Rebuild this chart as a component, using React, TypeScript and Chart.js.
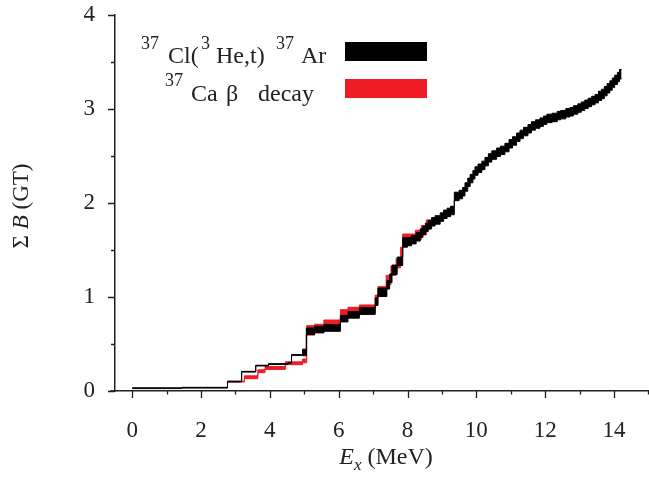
import React, { useEffect, useRef } from "react";
import { Chart, registerables } from "chart.js";

Chart.register(...registerables);

// ---- data ----
// 37Cl(3He,t)37Ar : step start energies (MeV), cumulative B(GT), half-width of band
const clE = [0, 1.44, 2.77, 3.18, 3.59, 3.96, 4.53, 4.63, 4.95, 5.06, 5.3, 5.57, 6.05, 6.27, 6.6, 7.06, 7.14, 7.4, 7.48, 7.55, 7.7, 7.86, 8.0, 8.12, 8.25, 8.37, 8.45, 8.52, 8.6, 8.7, 8.8, 8.95, 9.05, 9.15, 9.25, 9.36, 9.5, 9.6, 9.67, 9.75, 9.82, 9.9, 9.96, 10.05, 10.16, 10.25, 10.35, 10.45, 10.59, 10.7, 10.83, 10.95, 11.05, 11.17, 11.27, 11.37, 11.5, 11.6, 11.72, 11.85, 11.95, 12.05, 12.2, 12.35, 12.45, 12.6, 12.72, 12.82, 12.95, 13.05, 13.15, 13.25, 13.35, 13.45, 13.55, 13.64, 13.72, 13.8, 13.88, 13.95, 14.02, 14.1, 14.16, 14.22];
const clB = [0.03, 0.035, 0.1, 0.205, 0.27, 0.287, 0.3, 0.383, 0.41, 0.635, 0.654, 0.67, 0.77, 0.81, 0.85, 0.95, 1.05, 1.13, 1.2, 1.29, 1.38, 1.58, 1.59, 1.61, 1.64, 1.68, 1.71, 1.74, 1.77, 1.8, 1.82, 1.85, 1.88, 1.9, 1.92, 2.07, 2.09, 2.12, 2.17, 2.22, 2.26, 2.3, 2.34, 2.37, 2.4, 2.44, 2.48, 2.51, 2.54, 2.56, 2.59, 2.63, 2.66, 2.7, 2.73, 2.76, 2.79, 2.82, 2.84, 2.86, 2.88, 2.9, 2.91, 2.93, 2.94, 2.96, 2.97, 2.99, 3.01, 3.03, 3.05, 3.07, 3.09, 3.11, 3.14, 3.16, 3.19, 3.22, 3.25, 3.28, 3.31, 3.34, 3.37, 3.37];
const clErr = [0.004, 0.004, 0.004, 0.004, 0.004, 0.004, 0.004, 0.004, 0.035, 0.035, 0.035, 0.035, 0.035, 0.035, 0.035, 0.04, 0.045, 0.045, 0.045, 0.05, 0.045, 0.05, 0.045, 0.045, 0.045, 0.045, 0.045, 0.045, 0.045, 0.045, 0.045, 0.045, 0.045, 0.045, 0.045, 0.045, 0.045, 0.045, 0.045, 0.045, 0.045, 0.045, 0.045, 0.045, 0.045, 0.045, 0.045, 0.045, 0.045, 0.045, 0.045, 0.045, 0.045, 0.045, 0.045, 0.045, 0.045, 0.045, 0.045, 0.045, 0.045, 0.045, 0.045, 0.045, 0.045, 0.045, 0.045, 0.045, 0.045, 0.045, 0.045, 0.045, 0.045, 0.045, 0.05, 0.05, 0.05, 0.05, 0.05, 0.05, 0.05, 0.05, 0.05, 0.05];

// 37Ca beta decay
const caE = [2.77, 3.26, 3.65, 3.86, 4.45, 4.95, 5.07, 5.3, 5.57, 6.05, 6.27, 6.6, 7.06, 7.14, 7.38, 7.52, 7.67, 7.8, 7.86, 8.23, 8.4, 8.55, 8.68];
const caB = [0.1, 0.146, 0.21, 0.245, 0.295, 0.32, 0.645, 0.665, 0.71, 0.82, 0.845, 0.87, 0.97, 1.06, 1.18, 1.28, 1.36, 1.48, 1.62, 1.66, 1.71, 1.77, 1.77];
const caErr = [0.004, 0.015, 0.015, 0.015, 0.015, 0.02, 0.05, 0.045, 0.045, 0.045, 0.045, 0.045, 0.05, 0.05, 0.05, 0.05, 0.05, 0.05, 0.05, 0.05, 0.05, 0.05, 0.05];

const xTickValues = [0, 2, 4, 6, 8, 10, 12, 14];
const xMinorValues = [1, 3, 5, 7, 9, 11, 13, 15];
const yTickValues = [0, 1, 2, 3, 4];
const yMinorValues = [0.5, 1.5, 2.5, 3.5];

const seriesNames = ["37Cl(3He,t)37Ar", "37Ca beta decay"];

const FONT = "'Liberation Serif', 'Times New Roman', serif";
const BLACK = "#000000";
const RED = "#ee1c25";
const AXIS = "#231f20";

const band = (E: number[], B: number[], err: number[], sign: number) =>
  E.map((e, i) => ({ x: e, y: B[i] + sign * err[i] }));

type Part = { t: string; x: number; size: number; italic?: boolean; dy?: number };

function drawParts(ctx: CanvasRenderingContext2D, parts: Part[], baseY: number) {
  for (const p of parts) {
    ctx.font = `${p.italic ? "italic " : ""}${p.size}px ${FONT}`;
    ctx.fillText(p.t, p.x, baseY + (p.dy || 0));
  }
}

function drawSeq(ctx: CanvasRenderingContext2D, parts: { t: string; size: number; italic?: boolean; dy?: number }[], cx: number, baseY: number) {
  let total = 0;
  const widths = parts.map((p) => {
    ctx.font = `${p.italic ? "italic " : ""}${p.size}px ${FONT}`;
    const w = ctx.measureText(p.t).width;
    total += w;
    return w;
  });
  let x = cx - total / 2;
  parts.forEach((p, i) => {
    ctx.font = `${p.italic ? "italic " : ""}${p.size}px ${FONT}`;
    ctx.fillText(p.t, x, baseY + (p.dy || 0));
    x += widths[i];
  });
}

const decorPlugin = {
  id: "decor",
  afterDraw(chart: any) {
    const ctx: CanvasRenderingContext2D = chart.ctx;
    const xs = chart.scales.x;
    const ys = chart.scales.y;
    const area = chart.chartArea;
    ctx.save();
    // tick marks
    ctx.strokeStyle = AXIS;
    ctx.lineWidth = 1.3;
    ctx.beginPath();
    for (const v of xTickValues) {
      const px = Math.round(xs.getPixelForValue(v)) + 0.5;
      ctx.moveTo(px, area.bottom);
      ctx.lineTo(px, area.bottom + 7);
    }
    for (const v of xMinorValues) {
      const px = Math.round(xs.getPixelForValue(v)) + 0.5;
      ctx.moveTo(px, area.bottom);
      ctx.lineTo(px, area.bottom + 3.5);
    }
    for (const v of yTickValues) {
      const py = Math.round(ys.getPixelForValue(v)) + 0.5;
      ctx.moveTo(area.left - 7, py);
      ctx.lineTo(area.left, py);
    }
    for (const v of yMinorValues) {
      const py = Math.round(ys.getPixelForValue(v)) + 0.5;
      ctx.moveTo(area.left - 4, py);
      ctx.lineTo(area.left, py);
    }
    ctx.stroke();
    // small overhang of x axis to the left of the y axis
    ctx.lineWidth = 1.5;
    ctx.beginPath();
    ctx.moveTo(area.left - 5, area.bottom);
    ctx.lineTo(area.left, area.bottom);
    ctx.stroke();

    ctx.fillStyle = "#222";
    ctx.textAlign = "left";
    ctx.textBaseline = "alphabetic";
    // legend
    drawParts(ctx, [
      { t: "37", x: 141, size: 18, dy: -14 },
      { t: "Cl(", x: 168, size: 24 },
      { t: "3", x: 201, size: 18, dy: -14 },
      { t: "He,t)", x: 216, size: 24 },
      { t: "37", x: 276, size: 18, dy: -14 },
      { t: "Ar", x: 301, size: 24 },
    ], 63);
    drawParts(ctx, [
      { t: "37", x: 165, size: 18, dy: -15 },
      { t: "Ca", x: 191, size: 24 },
      { t: "\u03b2", x: 226, size: 24 },
      { t: "decay", x: 258, size: 24 },
    ], 101);
    ctx.fillStyle = BLACK;
    ctx.fillRect(345, 42, 82, 19);
    ctx.fillStyle = RED;
    ctx.fillRect(345, 79, 82, 19);

    // axis titles
    ctx.fillStyle = "#222";
    drawSeq(ctx, [
      { t: "E", size: 24, italic: true },
      { t: "x", size: 17, italic: true, dy: 6 },
      { t: " (MeV)", size: 24 },
    ], 386, 464);
    ctx.save();
    ctx.translate(28, 206);
    ctx.rotate(-Math.PI / 2);
    drawSeq(ctx, [
      { t: "\u03a3 ", size: 23 },
      { t: "B", size: 23, italic: true },
      { t: " (GT)", size: 23 },
    ], 0, 0);
    ctx.restore();
    ctx.restore();
  },
};

export default function App() {
  const ref = useRef<HTMLCanvasElement>(null);
  useEffect(() => {
    if (!ref.current) return;
    const common = { pointRadius: 0, borderWidth: 1, stepped: true as const };
    const chart = new Chart(ref.current, {
      type: "line",
      data: {
        datasets: [
          { ...common, label: seriesNames[0] + " upper", data: band(clE, clB, clErr, 1), borderColor: BLACK, backgroundColor: BLACK, fill: false, order: 0 },
          { ...common, label: seriesNames[0] + " lower", data: band(clE, clB, clErr, -1), borderColor: BLACK, backgroundColor: BLACK, fill: "-1", order: 0 },
          { ...common, label: seriesNames[1] + " upper", data: band(caE, caB, caErr, 1), borderColor: RED, backgroundColor: RED, fill: false, order: 1 },
          { ...common, label: seriesNames[1] + " lower", data: band(caE, caB, caErr, -1), borderColor: RED, backgroundColor: RED, fill: "-1", order: 1 },
        ],
      },
      options: {
        responsive: false,
        animation: false,
        devicePixelRatio: 1,
        layout: { autoPadding: false, padding: { left: 0, top: 15, right: 0.6, bottom: 0 } },
        plugins: { legend: { display: false }, tooltip: { enabled: false } },
        scales: {
          x: {
            type: "linear",
            min: -0.5,
            max: 15,
            grid: { display: false, drawTicks: false },
            border: { display: true, color: AXIS, width: 1.5 },
            ticks: { font: { family: FONT, size: 23 }, color: "#222", padding: 26, maxRotation: 0 },
            afterBuildTicks: (s: any) => { s.ticks = xTickValues.map((v) => ({ value: v })); },
            afterFit: (s: any) => { s.height = 101; s.paddingLeft = 0; s.paddingRight = 0; },
          },
          y: {
            type: "linear",
            min: 0,
            max: 4,
            grid: { display: false, drawTicks: false },
            border: { display: true, color: AXIS, width: 1.5 },
            ticks: { font: { family: FONT, size: 23 }, color: "#222", padding: 20 },
            afterBuildTicks: (s: any) => { s.ticks = yTickValues.map((v) => ({ value: v })); },
            afterFit: (s: any) => { s.width = 115; s.paddingTop = 0; s.paddingBottom = 0; },
          },
        },
      },
      plugins: [decorPlugin],
    });
    return () => chart.destroy();
  }, []);
  return (
    <div style={{ position: "fixed", left: 0, top: 0, width: 649, height: 492, background: "#fff" }}>
      <canvas ref={ref} width={649} height={492} style={{ display: "block" }} />
    </div>
  );
}
